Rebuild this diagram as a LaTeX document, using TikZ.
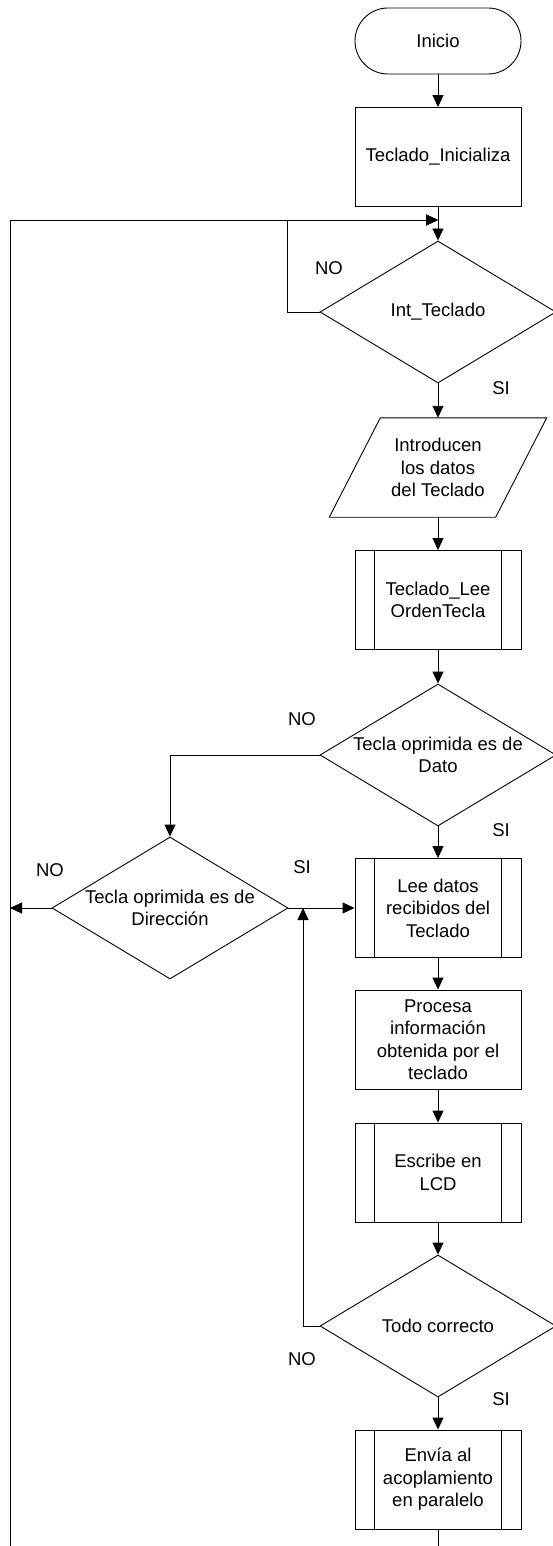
\documentclass[tikz,border=0pt]{standalone}
\usepackage{fontspec}
\setmainfont{Liberation Sans}
\usetikzlibrary{arrows.meta,shapes.geometric}
\begin{document}
\begin{tikzpicture}[x=1pt,y=-1pt,
  every node/.style={font=\fontsize{18.5}{22.5}\selectfont, inner sep=0pt, align=center},
  line/.style={draw=black, line width=0.9pt},
  arr/.style={line, -{Triangle[length=12pt,width=11pt]}},
  term/.style={draw, line width=0.9pt, rectangle, rounded corners=33pt, minimum width=166pt, minimum height=66pt},
  proc/.style={draw, line width=0.9pt, rectangle, minimum width=166pt, minimum height=99pt},
  dia/.style={draw, line width=0.9pt, diamond, minimum width=236pt, minimum height=142pt},
  io/.style={rectangle, minimum width=166pt, minimum height=99pt}]
\useasboundingbox (0,0) rectangle (553,1546);

% nodes
\node[term] (ini) at (438,41) {Inicio};
\node[proc] (ti) at (438,157) {Teclado\_Inicializa};
\node[dia] (it) at (438,312) {};
\node (itT) at (it) {Int\_Teclado};
\node[io] (in) at (438,467.5) {Introducen\\los datos\\del Teclado};
\draw[line] ([xshift=25.5pt]in.north west) -- ([xshift=25.5pt]in.north east)
  -- ([xshift=-25.5pt]in.south east) -- ([xshift=-25.5pt]in.south west) -- cycle;
\node[proc] (tl) at (438,600) {Teclado\_Lee\\OrdenTecla};
\node[dia] (dato) at (438,755) {};
\node (datoT) at (dato) {Tecla oprimida es de\\Dato};
\node[dia] (dir) at (170,908) {};
\node (dirT) at (dir) {Tecla oprimida es de\\Dirección};
\node[proc] (lee) at (438,908) {Lee datos\\recibidos del\\Teclado};
\node[proc] (proc) at (438,1039.5) {Procesa\\información\\obtenida por el\\teclado};
\node[proc] (esc) at (438,1172.5) {Escribe en\\LCD};
\node[dia] (todo) at (438,1326) {};
\node (todoT) at (todo) {Todo correcto};
\node[proc] (env) at (438,1479.5) {Envía al\\acoplamiento\\en paralelo};

% subroutine side bars
\foreach \b in {tl,lee,esc,env}{
  \draw[line] ([xshift=20pt]\b.north west) -- ([xshift=20pt]\b.south west);
  \draw[line] ([xshift=-20pt]\b.north east) -- ([xshift=-20pt]\b.south east);
}

% coordinates
\coordinate (j) at (438,220);
\coordinate (bl) at (10,1546);
\coordinate (eb) at (438,1546);
\coordinate (up) at (303,908);

% labels
\node (l1) at (329,268) {NO};
\node (l2) at (501,388) {SI};
\node (l3) at (302,719) {NO};
\node (l4) at (501,830) {SI};
\node (l5) at (50,870) {NO};
\node (l6) at (302,867) {SI};
\node (l7) at (302,1359) {NO};
\node (l8) at (501,1399) {SI};

% connectors
\draw[arr] (ini) -- (ti);
\draw[arr] (ti) -- (it);
\draw[arr] (bl) |- (j);
\draw[arr] (it.west) -- ++(-32,0) |- (j);
\draw[arr] (it) -- (in);
\draw[arr] (in) -- (tl);
\draw[arr] (tl) -- (dato);
\draw[arr] (dato.west) -| (dir.north);
\draw[arr] (dato) -- (lee);
\draw[arr] (dir.west) -- (dir.west -| bl);
\draw[arr] (dir.east) -- (lee.west);
\draw[arr] (lee) -- (proc);
\draw[arr] (proc) -- (esc);
\draw[arr] (esc) -- (todo);
\draw[arr] (todo.west) -| (up);
\draw[arr] (todo) -- (env);
\draw[line] (env) -- (eb);
\end{tikzpicture}
\end{document}
